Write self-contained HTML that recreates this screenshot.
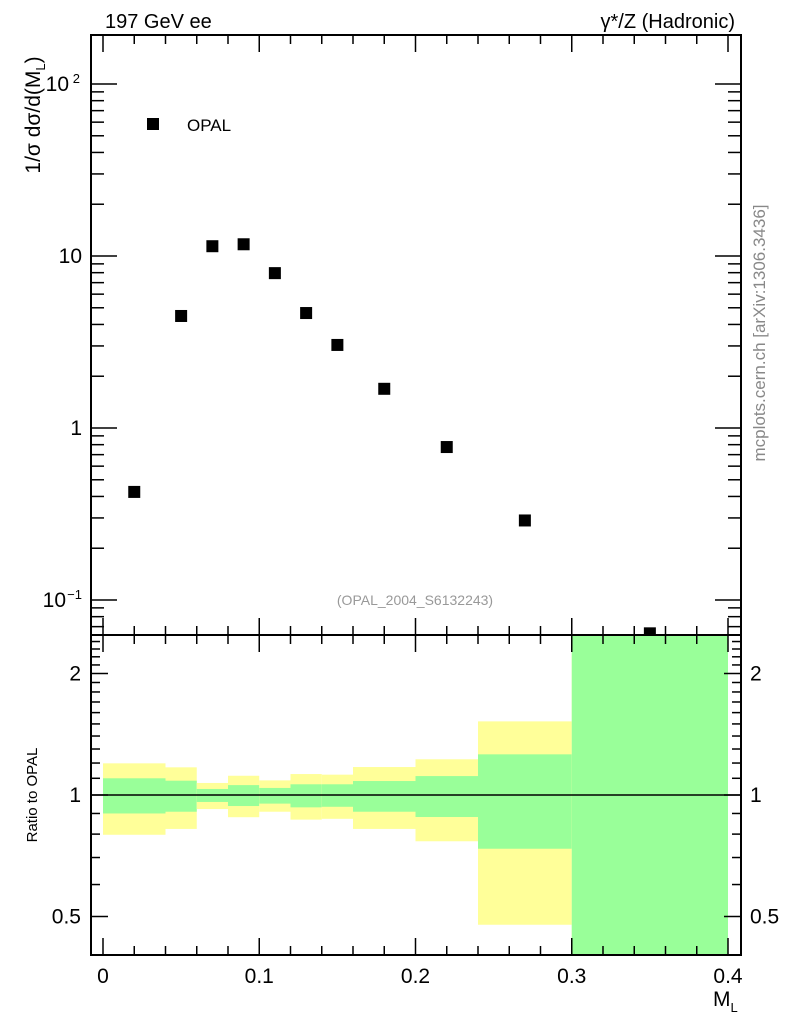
<!DOCTYPE html>
<html><head><meta charset="utf-8"><style>
html,body{margin:0;padding:0;background:#fff}
svg{display:block;font-family:"Liberation Sans",sans-serif}
</style></head><body>
<svg id="c" width="786" height="1024" viewBox="0 0 786 1024">
<g id="ratioBands"></g>
<g id="ticks"></g>
<g id="points"></g>
<rect x="91" y="35" width="650" height="600" fill="none" stroke="#000" stroke-width="2"/>
<rect x="91" y="635" width="650" height="320" fill="none" stroke="#000" stroke-width="2"/>
<text x="105" y="28" font-size="20">197 GeV ee</text>
<text x="735" y="28" font-size="20" text-anchor="end">γ*/Z (Hadronic)</text>
<text transform="translate(40,115) rotate(-90)" font-size="21" text-anchor="middle">1/σ dσ/d(M<tspan font-size="13" dy="5">L</tspan><tspan dy="-5">)</tspan></text>
<text transform="translate(37,795) rotate(-90)" font-size="15" text-anchor="middle">Ratio to OPAL</text>
<text transform="translate(765,333) rotate(-90)" font-size="17" fill="#888" text-anchor="middle">mcplots.cern.ch [arXiv:1306.3436]</text>
<text x="415" y="605" font-size="14" fill="#999" text-anchor="middle">(OPAL_2004_S6132243)</text>
<rect x="147" y="118" width="12" height="12" fill="#000"/>
<text x="187" y="131" font-size="17">OPAL</text>
<text x="713" y="1006" font-size="21">M<tspan font-size="13" dy="6">L</tspan></text>
</svg>
<script>
const binEdges=[0,0.04,0.06,0.08,0.1,0.12,0.14,0.16,0.2,0.24,0.3,0.4];
const xCenters=[0.02,0.05,0.07,0.09,0.11,0.13,0.15,0.18,0.22,0.27,0.35];
const yValues=[0.425,4.48,11.4,11.7,7.95,4.66,3.04,1.69,0.775,0.29,0.064];
const yellowUp=[1.198,1.171,1.071,1.116,1.087,1.127,1.123,1.173,1.226,1.522,3.0];
const greenUp=[1.10,1.085,1.035,1.058,1.041,1.063,1.063,1.083,1.114,1.261,3.0];
const greenDn=[0.90,0.909,0.961,0.939,0.952,0.932,0.935,0.909,0.882,0.736,0.3];
const yellowDn=[0.797,0.824,0.923,0.881,0.909,0.869,0.873,0.824,0.768,0.477,0.3];
const xTickLabels=["0","0.1","0.2","0.3","0.4"];
const NS="http://www.w3.org/2000/svg";
const X=v=>103+v*1562.5;
const Y=v=>428-Math.log10(v)*172;
const R=v=>795-Math.log2(v)*121.5;
const RT=635,RB=955;
const clampR=v=>Math.max(RT,Math.min(RB,R(v)));
function mk(tag,attrs,parent){const e=document.createElementNS(NS,tag);for(const k in attrs)e.setAttribute(k,attrs[k]);parent.appendChild(e);return e;}
const bands=document.getElementById('ratioBands');
for(let i=0;i<xCenters.length;i++){
  const x1=X(binEdges[i]),x2=X(binEdges[i+1]);
  const y=mk('rect',{x:x1,y:clampR(yellowUp[i]),width:x2-x1,height:clampR(yellowDn[i])-clampR(yellowUp[i]),fill:'#ffff99'},bands);
  
  
  const g=mk('rect',{x:x1,y:clampR(greenUp[i]),width:x2-x1,height:clampR(greenDn[i])-clampR(greenUp[i]),fill:'#99ff99'},bands);
  
  
}
const ref=mk('line',{x1:91,x2:741,y1:R(1),y2:R(1),stroke:'#000','stroke-width':1.5},bands);


const pts=document.getElementById('points');
for(let i=0;i<xCenters.length;i++){
  const yy=Y(yValues[i]);
  if(yy>636)continue;
  const r=mk('rect',{x:X(xCenters[i])-6,y:yy-6,width:12,height:Math.min(12,636-(yy-6)),fill:'#000'},pts);
  
  
}
const tk=document.getElementById('ticks');
function ln(x1,y1,x2,y2){const l=mk('line',{x1,y1,x2,y2,stroke:'#000','stroke-width':1.5},tk);}
function tx(x,y,s,anchor){const t=mk('text',{x,y,'font-size':21,'text-anchor':anchor},tk);t.textContent=s;return t;}
for(let k=0;k<=20;k++){
  const v=k*0.02,x=X(v),maj=k%5===0,L=maj?17:9;
  ln(x,35,x,35+L);ln(x,635,x,635-L);ln(x,635,x,635+L);ln(x,955,x,955-L);
}
xTickLabels.forEach((s,i)=>tx(X(i*0.1),983,s,'middle'));
for(let d=-2;d<=2;d++){for(let m=1;m<10;m++){
  const v=m*Math.pow(10,d),y=Y(v);if(y<35||y>635)continue;
  const L=m===1?26:13;ln(91,y,91+L,y);ln(741,y,741-L,y);
}}
tx(82,435,"1","end");tx(82,263,"10","end");
let t1=tx(69,91,"10","end");let s1=mk('tspan',{'font-size':13,dy:-8,x:80},t1);s1.textContent="2";
let t2=tx(66,607,"10","end");let s2=mk('tspan',{'font-size':13,dy:-8,x:82},t2);s2.textContent="−1";
for(let k=4;k<=24;k++){
  const v=k/10,y=R(v);if(y<RT||y>RB)continue;
  const maj=(k===5||k===10||k===20),L=maj?17:9;ln(91,y,91+L,y);ln(741,y,741-L,y);
}
[[2,"2"],[1,"1"],[0.5,"0.5"]].forEach(([v,s])=>{tx(81,R(v)+7,s,"end");tx(750,R(v)+7,s,"start");});
</script>
</body></html>
